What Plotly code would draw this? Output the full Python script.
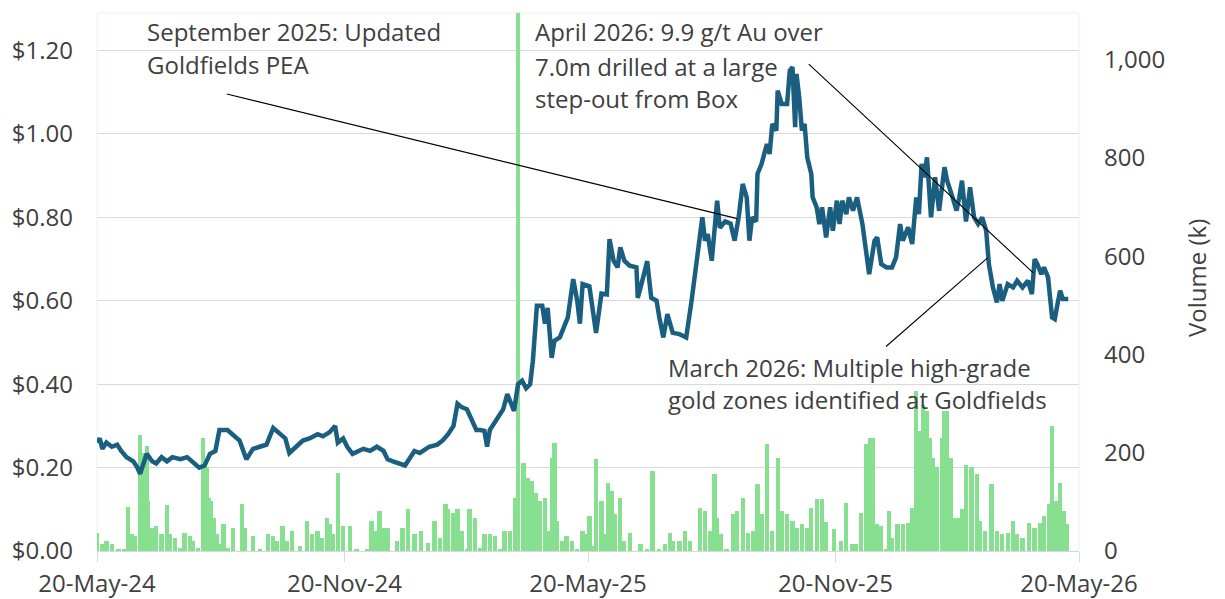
import plotly.graph_objects as go

# ---------------- data ----------------
price_dates = [
    "2024-05-20", "2024-05-22", "2024-05-24", "2024-05-27", "2024-05-31", "2024-06-04", "2024-06-07",
    "2024-06-11", "2024-06-16", "2024-06-19", "2024-06-21", "2024-06-23", "2024-06-26", "2024-06-30",
    "2024-07-03", "2024-07-07", "2024-07-11", "2024-07-15", "2024-07-21", "2024-07-26", "2024-07-30",
    "2024-08-04", "2024-08-08", "2024-08-12", "2024-08-16", "2024-08-19", "2024-08-25", "2024-08-29",
    "2024-09-03", "2024-09-08", "2024-09-13", "2024-09-18", "2024-09-23", "2024-09-28", "2024-10-03",
    "2024-10-07", "2024-10-10", "2024-10-16", "2024-10-20", "2024-10-25", "2024-10-31", "2024-11-04",
    "2024-11-09", "2024-11-13", "2024-11-15", "2024-11-19", "2024-11-22", "2024-11-26", "2024-11-30",
    "2024-12-04", "2024-12-09", "2024-12-14", "2024-12-19", "2024-12-22", "2024-12-26", "2024-12-31",
    "2025-01-04", "2025-01-08", "2025-01-11", "2025-01-15", "2025-01-19", "2025-01-22", "2025-01-28",
    "2025-02-01", "2025-02-05", "2025-02-09", "2025-02-12", "2025-02-15", "2025-02-19", "2025-02-23",
    "2025-02-26", "2025-03-01", "2025-03-04", "2025-03-06", "2025-03-08", "2025-03-12", "2025-03-16",
    "2025-03-18", "2025-03-21", "2025-03-24", "2025-03-26", "2025-03-29", "2025-04-01", "2025-04-04",
    "2025-04-07", "2025-04-09", "2025-04-11", "2025-04-12", "2025-04-16", "2025-04-18", "2025-04-20",
    "2025-04-23", "2025-04-25", "2025-04-29", "2025-05-01", "2025-05-05", "2025-05-09", "2025-05-12",
    "2025-05-14", "2025-05-16", "2025-05-21", "2025-05-26", "2025-05-30", "2025-06-03", "2025-06-05",
    "2025-06-08", "2025-06-11", "2025-06-13", "2025-06-16", "2025-06-20", "2025-06-25", "2025-06-26",
    "2025-06-30", "2025-07-03", "2025-07-06", "2025-07-10", "2025-07-12", "2025-07-15", "2025-07-18",
    "2025-07-22", "2025-07-27", "2025-08-01", "2025-08-05", "2025-08-09", "2025-08-13", "2025-08-15",
    "2025-08-17", "2025-08-20", "2025-08-24", "2025-08-26", "2025-08-30", "2025-09-03", "2025-09-06",
    "2025-09-09", "2025-09-12", "2025-09-15", "2025-09-17", "2025-09-19", "2025-09-22", "2025-09-23",
    "2025-09-26", "2025-09-30", "2025-10-02", "2025-10-04", "2025-10-07", "2025-10-08", "2025-10-11",
    "2025-10-15", "2025-10-17", "2025-10-19", "2025-10-21", "2025-10-22", "2025-10-24", "2025-10-26",
    "2025-10-28", "2025-10-30", "2025-11-02", "2025-11-03", "2025-11-06", "2025-11-08", "2025-11-10",
    "2025-11-13", "2025-11-16", "2025-11-18", "2025-11-21", "2025-11-23", "2025-11-25", "2025-11-28",
    "2025-11-30", "2025-12-03", "2025-12-06", "2025-12-10", "2025-12-13", "2025-12-15", "2025-12-19",
    "2025-12-21", "2025-12-24", "2025-12-28", "2026-01-01", "2026-01-04", "2026-01-07", "2026-01-09",
    "2026-01-13", "2026-01-16", "2026-01-19", "2026-01-21", "2026-01-23", "2026-01-25", "2026-01-27",
    "2026-01-30", "2026-02-02", "2026-02-05", "2026-02-09", "2026-02-11", "2026-02-15", "2026-02-18",
    "2026-02-20", "2026-02-22", "2026-02-25", "2026-02-28", "2026-03-03", "2026-03-06", "2026-03-09",
    "2026-03-12", "2026-03-14", "2026-03-17", "2026-03-20", "2026-03-22", "2026-03-24", "2026-03-28",
    "2026-04-01", "2026-04-04", "2026-04-08", "2026-04-12", "2026-04-15", "2026-04-17", "2026-04-19",
    "2026-04-22", "2026-04-24", "2026-04-27", "2026-04-30", "2026-05-02", "2026-05-04", "2026-05-06",
    "2026-05-08", "2026-05-12",
]
price_values = [
    0.26, 0.27, 0.245, 0.26, 0.25, 0.255, 0.24,
    0.225, 0.215, 0.20, 0.185, 0.205, 0.233, 0.215,
    0.21, 0.225, 0.215, 0.225, 0.22, 0.225, 0.215,
    0.20, 0.205, 0.233, 0.24, 0.29, 0.29, 0.28,
    0.265, 0.22, 0.245, 0.25, 0.255, 0.295, 0.28,
    0.27, 0.235, 0.255, 0.265, 0.27, 0.28, 0.275,
    0.285, 0.30, 0.26, 0.27, 0.25, 0.233, 0.24,
    0.245, 0.24, 0.25, 0.24, 0.22, 0.215, 0.21,
    0.205, 0.225, 0.24, 0.235, 0.245, 0.25, 0.255,
    0.265, 0.28, 0.30, 0.353, 0.345, 0.34, 0.31,
    0.29, 0.29, 0.288, 0.25, 0.29, 0.31, 0.33,
    0.34, 0.376, 0.35, 0.336, 0.40, 0.408, 0.39,
    0.40, 0.455, 0.576, 0.588, 0.588, 0.545, 0.583,
    0.463, 0.504, 0.512, 0.528, 0.56, 0.652, 0.60,
    0.545, 0.64, 0.635, 0.523, 0.617, 0.615, 0.748,
    0.696, 0.68, 0.728, 0.696, 0.684, 0.68, 0.607,
    0.656, 0.695, 0.607, 0.60, 0.56, 0.512, 0.568,
    0.523, 0.52, 0.512, 0.60, 0.703, 0.80, 0.744,
    0.76, 0.696, 0.84, 0.775, 0.79, 0.785, 0.744,
    0.80, 0.88, 0.848, 0.744, 0.80, 0.79, 0.904,
    0.928, 0.976, 0.952, 1.024, 1.008, 1.104, 1.072,
    1.072, 1.152, 1.16, 1.016, 1.144, 1.088, 1.008,
    1.024, 0.944, 0.904, 0.848, 0.824, 0.784, 0.824,
    0.752, 0.824, 0.768, 0.84, 0.784, 0.84, 0.808,
    0.848, 0.816, 0.848, 0.784, 0.704, 0.664, 0.744,
    0.752, 0.688, 0.68, 0.68, 0.704, 0.784, 0.744,
    0.776, 0.736, 0.848, 0.808, 0.928, 0.896, 0.944,
    0.80, 0.896, 0.816, 0.92, 0.888, 0.848, 0.816,
    0.848, 0.888, 0.79, 0.872, 0.80, 0.784, 0.80,
    0.768, 0.688, 0.632, 0.596, 0.64, 0.60, 0.64,
    0.632, 0.648, 0.632, 0.648, 0.616, 0.70, 0.688,
    0.664, 0.68, 0.656, 0.56, 0.556, 0.592, 0.624,
    0.604, 0.604,
]

volume_dates = [
    "2024-05-20", "2024-05-24", "2024-05-27", "2024-05-31", "2024-06-05", "2024-06-09", "2024-06-12",
    "2024-06-15", "2024-06-17", "2024-06-21", "2024-06-23", "2024-06-26", "2024-06-27", "2024-06-30",
    "2024-07-03", "2024-07-07", "2024-07-11", "2024-07-13", "2024-07-17", "2024-07-21", "2024-07-24",
    "2024-07-28", "2024-07-30", "2024-08-03", "2024-08-07", "2024-08-10", "2024-08-11", "2024-08-13",
    "2024-08-15", "2024-08-17", "2024-08-19", "2024-08-22", "2024-08-25", "2024-08-29", "2024-09-05",
    "2024-09-07", "2024-09-13", "2024-09-18", "2024-09-24", "2024-09-28", "2024-10-01", "2024-10-05",
    "2024-10-08", "2024-10-12", "2024-10-18", "2024-10-23", "2024-10-27", "2024-10-31", "2024-11-03",
    "2024-11-07", "2024-11-09", "2024-11-11", "2024-11-15", "2024-11-19", "2024-11-24", "2024-11-29",
    "2024-12-07", "2024-12-10", "2024-12-13", "2024-12-16", "2024-12-19", "2024-12-22", "2024-12-29",
    "2025-01-02", "2025-01-06", "2025-01-11", "2025-01-16", "2025-01-21", "2025-01-26", "2025-01-30",
    "2025-02-03", "2025-02-05", "2025-02-09", "2025-02-12", "2025-02-15", "2025-02-19", "2025-02-21",
    "2025-02-25", "2025-03-01", "2025-03-04", "2025-03-08", "2025-03-12", "2025-03-16", "2025-03-19",
    "2025-03-23", "2025-03-27", "2025-03-29", "2025-04-02", "2025-04-05", "2025-04-08", "2025-04-11",
    "2025-04-12", "2025-04-14", "2025-04-18", "2025-04-20", "2025-04-23", "2025-04-25", "2025-04-27",
    "2025-05-01", "2025-05-04", "2025-05-08", "2025-05-12", "2025-05-16", "2025-05-18", "2025-05-21",
    "2025-05-23", "2025-05-26", "2025-05-30", "2025-06-01", "2025-06-04", "2025-06-07", "2025-06-09",
    "2025-06-13", "2025-06-16", "2025-06-20", "2025-06-28", "2025-07-03", "2025-07-07", "2025-07-12",
    "2025-07-16", "2025-07-20", "2025-07-22", "2025-07-27", "2025-07-31", "2025-08-04", "2025-08-11",
    "2025-08-15", "2025-08-19", "2025-08-22", "2025-08-24", "2025-08-27", "2025-08-31", "2025-09-05",
    "2025-09-08", "2025-09-12", "2025-09-16", "2025-09-20", "2025-09-23", "2025-09-26", "2025-09-30",
    "2025-10-04", "2025-10-08", "2025-10-11", "2025-10-15", "2025-10-19", "2025-10-22", "2025-10-26",
    "2025-10-30", "2025-11-02", "2025-11-06", "2025-11-10", "2025-11-13", "2025-11-19", "2025-11-24",
    "2025-11-28", "2025-12-02", "2025-12-05", "2025-12-09", "2025-12-13", "2025-12-16", "2025-12-18",
    "2025-12-21", "2025-12-24", "2025-12-28", "2025-12-30", "2026-01-01", "2026-01-05", "2026-01-09",
    "2026-01-13", "2026-01-16", "2026-01-19", "2026-01-21", "2026-01-24", "2026-01-27", "2026-01-29",
    "2026-01-31", "2026-02-03", "2026-02-07", "2026-02-09", "2026-02-11", "2026-02-14", "2026-02-16",
    "2026-02-19", "2026-02-22", "2026-02-25", "2026-03-01", "2026-03-05", "2026-03-07", "2026-03-11",
    "2026-03-16", "2026-03-20", "2026-03-24", "2026-03-28", "2026-04-01", "2026-04-04", "2026-04-08",
    "2026-04-13", "2026-04-17", "2026-04-21", "2026-04-24", "2026-04-28", "2026-04-30", "2026-05-03",
    "2026-05-06", "2026-05-09", "2026-05-11",
]
volume_values = [
    37, 15, 20, 15, 5, 5, 90,
    34, 30, 237, 200, 214, 102, 47,
    51, 34, 94, 34, 27, 7, 37,
    30, 20, 7, 231, 170, 108, 102,
    68, 34, 14, 54, 7, 47, 95,
    47, 30, 3, 34, 30, 20, 51,
    20, 41, 10, 61, 34, 41, 27,
    68, 54, 34, 159, 51, 51, 3,
    3, 61, 41, 81, 47, 47, 20,
    47, 85, 34, 41, 17, 61, 27,
    95, 85, 78, 85, 41, 3, 85,
    68, 7, 34, 34, 30, 3, 41,
    41, 108, 1500, 180, 149, 142, 119,
    81, 102, 108, 41, 190, 220, 61,
    20, 30, 20, 3, 41, 34, 71,
    10, 187, 102, 34, 139, 122, 75,
    108, 20, 37, 14, 3, 163, 3,
    14, 37, 20, 20, 41, 20, 88,
    81, 41, 156, 68, 34, 3, 75,
    81, 108, 37, 41, 136, 75, 217,
    41, 190, 81, 75, 61, 47, 54,
    47, 88, 105, 105, 60, 44, 20,
    98, 14, 14, 78, 217, 231, 231,
    54, 51, 3, 81, 27, 54, 54,
    58, 88, 326, 244, 298, 285, 231,
    190, 170, 231, 285, 285, 190, 68,
    68, 85, 176, 170, 156, 61, 41,
    136, 41, 34, 37, 61, 34, 27,
    58, 47, 58, 71, 95, 254, 102,
    139, 81, 54,
]

x_tick_dates = ["2024-05-20", "2024-11-20", "2025-05-20", "2025-11-20", "2026-05-20"]
x_tick_labels = ["20-May-24", "20-Nov-24", "20-May-25", "20-Nov-25", "20-May-26"]
price_ticks = [0.0, 0.2, 0.4, 0.6, 0.8, 1.0, 1.2]
price_tick_labels = ["$0.00", "$0.20", "$0.40", "$0.60", "$0.80", "$1.00", "$1.20"]
volume_ticks = [0, 200, 400, 600, 800, 1000]
volume_tick_labels = ["0", "200", "400", "600", "800", "1,000"]

# event callouts: point on the price line and the text lines
event_dates = ["2025-09-08", "2026-04-16", "2026-03-13"]
event_prices = [0.797, 0.667, 0.703]
event_texts = [
    ["September 2025: Updated", "Goldfields PEA"],
    ["April 2026: 9.9 g/t Au over", "7.0m drilled at a large", "step-out from Box"],
    ["March 2026: Multiple high-grade", "gold zones identified at Goldfields"],
]

# ---------------- style ----------------
FONT = "Open Sans"
TXT = "#404040"
GRID = "#D9D9D9"
LINE_COLOR = "#1A5E80"
BAR_COLOR = "#86E090"
FS_TEXT = 24
FS_TICK = 24

# layout geometry (pixels)
W, H = 1225, 599
ML, MR, MT, MB = 97, 146, 13, 48
PW, PH = W - ML - MR, H - MT - MB

def px_x(p):
    return (p - ML) / PW

def px_y(p):
    return (H - MB - p) / PH

fig = go.Figure()

fig.add_trace(go.Bar(
    x=volume_dates, y=volume_values, yaxis="y",
    marker=dict(color=BAR_COLOR, line=dict(width=0)),
    width=3.2 * 86400000, hoverinfo="x+y", name="Volume",
))
fig.add_trace(go.Scatter(
    x=price_dates, y=price_values, yaxis="y2", mode="lines",
    line=dict(color=LINE_COLOR, width=4.5), name="Price",
))

# callout lines (arrow annotations without heads)
arrow_offsets = [(-512, -125), (-226, -210), (-103, 90)]
annotations = []
for d, p, (ax, ay) in zip(event_dates, event_prices, arrow_offsets):
    annotations.append(dict(
        x=d, y=p, xref="x", yref="y2", text="", showarrow=True,
        arrowhead=0, arrowwidth=1.1, arrowcolor="#000000", ax=ax, ay=ay,
        standoff=0, startstandoff=0,
    ))

text_pos = [(145, [32, 64]), (533, [32, 66, 98]), (666, [367, 399])]
for lines, (tx, tys) in zip(event_texts, text_pos):
    for line, ty in zip(lines, tys):
        annotations.append(dict(
            x=px_x(tx), y=px_y(ty), xref="paper", yref="paper", text=line,
            showarrow=False, xanchor="left", yanchor="middle",
            font=dict(family=FONT, size=FS_TEXT, color=TXT),
        ))

annotations.append(dict(
    x=px_x(1196), y=px_y(278), xref="paper", yref="paper", text="Volume (k)",
    textangle=-90, showarrow=False, xanchor="center", yanchor="middle",
    font=dict(family=FONT, size=FS_TEXT, color=TXT),
))

fig.update_layout(
    width=W, height=H,
    margin=dict(l=ML, r=MR, t=MT, b=MB, autoexpand=False),
    paper_bgcolor="white", plot_bgcolor="white",
    showlegend=False, bargap=0,
    font=dict(family=FONT, size=FS_TICK, color=TXT),
    xaxis=dict(
        type="date", range=["2024-05-20", "2026-05-20"],
        tickvals=x_tick_dates, ticktext=x_tick_labels,
        ticks="outside", ticklen=10, tickcolor=GRID, tickwidth=1,
        showline=True, linecolor=GRID, linewidth=1,
        showgrid=False, zeroline=False, ticklabelstandoff=1,
        automargin=False,
        tickfont=dict(family=FONT, size=FS_TICK, color=TXT),
    ),
    yaxis=dict(
        side="right", range=[0, 1095],
        tickvals=volume_ticks, ticktext=volume_tick_labels,
        showgrid=False, zeroline=False, showline=False, ticks="",
        ticklabelstandoff=24, automargin=False,
        tickfont=dict(family=FONT, size=FS_TICK, color=TXT),
    ),
    yaxis2=dict(
        overlaying="y", side="left", range=[0, 1.29],
        tickvals=price_ticks, ticktext=price_tick_labels,
        showgrid=True, gridcolor=GRID, gridwidth=1.2,
        zeroline=False, showline=False, ticks="",
        ticklabelstandoff=23, automargin=False,
        tickfont=dict(family=FONT, size=FS_TICK, color=TXT),
    ),
    annotations=annotations,
    shapes=[dict(
        type="rect", xref="paper", yref="paper", x0=0, x1=1, y0=0, y1=1,
        line=dict(color="#E3F5E8", width=1), layer="below",
    )],
)

fig.write_html(
    "out.html",
    config={"displayModeBar": False},
    post_script="document.body.style.margin='0px';document.body.style.overflow='hidden';",
)
